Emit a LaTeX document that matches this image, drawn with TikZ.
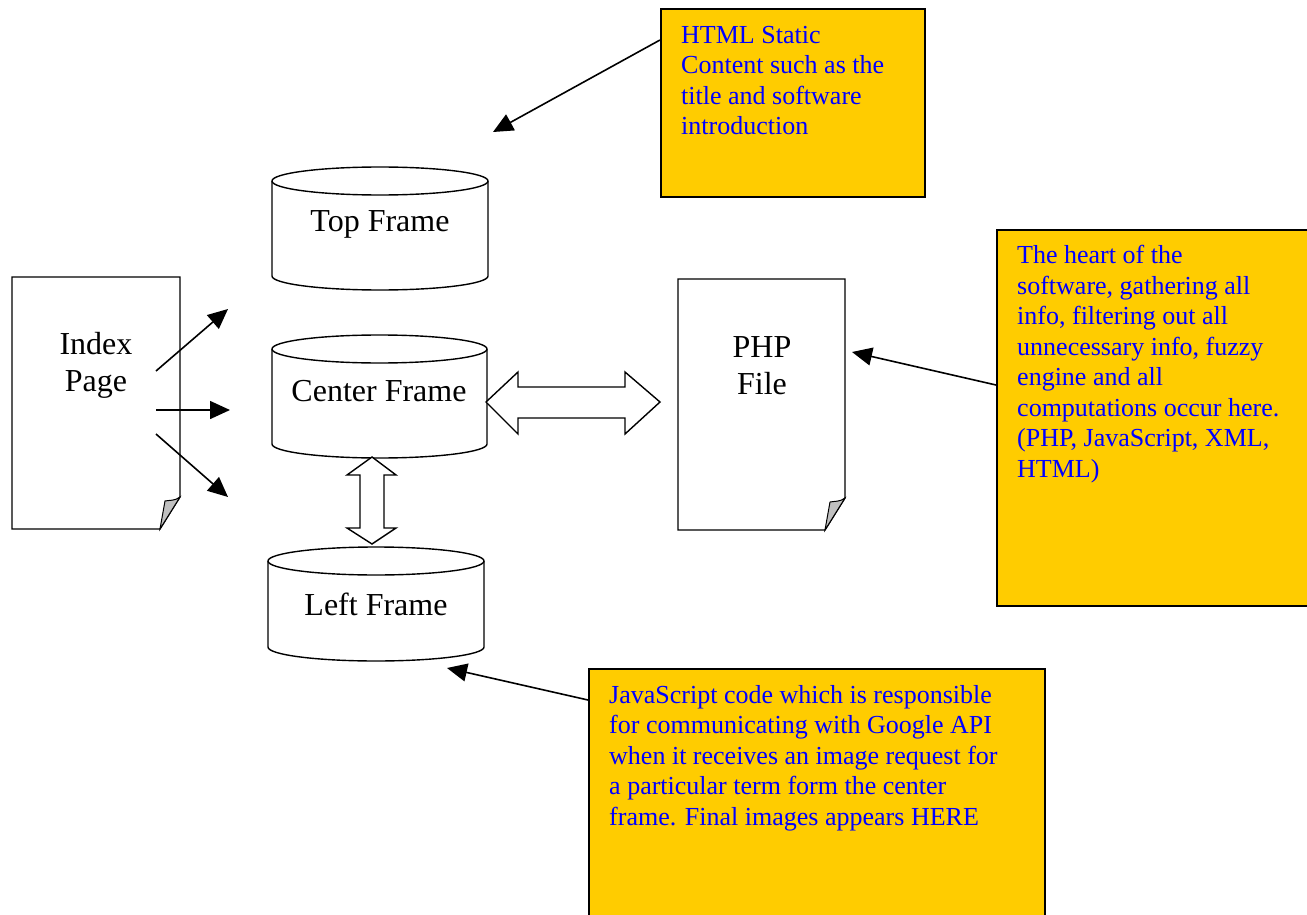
\documentclass[tikz,border=0pt]{standalone}
\usepackage{fontspec}
\setmainfont{Liberation Serif}
\usetikzlibrary{arrows.meta}
\definecolor{note}{HTML}{FFCC00}
\definecolor{notetext}{HTML}{0000FF}
\definecolor{foldgray}{HTML}{C0C0C0}
\begin{document}
\begin{tikzpicture}[x=1pt,y=-1pt,
  outline/.style={draw=black,line width=1.4pt,line join=miter,fill=white},
  notebox/.style={draw=black,line width=2pt,fill=note,inner sep=0pt,anchor=north west},
  notetxt/.style={text=notetext,font=\fontsize{26}{30.5}\selectfont,align=left,inner sep=0pt,anchor=north west},
  bigtxt/.style={font=\fontsize{32}{37}\selectfont,align=center,inner sep=0pt},
  arr/.style={line width=1.6pt,-{Triangle[length=20pt,width=18pt]}},
  foldst/.style={draw=black,line width=1pt,fill=foldgray}]
\useasboundingbox (0,0) rectangle (1307,915);
\fill[white] (0,0) rectangle (1307,915);

% ---------- yellow notes ----------
\node[notebox,minimum width=264pt,minimum height=188pt] (tbox) at (660,8) {};
\node[notetxt] (ttxt) at (681,26) {HTML Static\\Content such as the\\title and software\\introduction};

\node[notebox,minimum width=330pt,minimum height=376pt] (rbox) at (996,229) {};
\node[notetxt] (rtxt) at (1017,245) {The heart of the\\software, gathering all\\info, filtering out all\\unnecessary info, fuzzy\\engine and all\\computations occur here.\\(PHP, JavaScript, XML,\\HTML)};

\node[notebox,minimum width=456pt,minimum height=270pt] (bbox) at (588,668) {};
\node[notetxt] (btxt) at (609,685) {JavaScript code which is responsible\\for communicating with Google API\\when it receives an image request for\\a particular term form the center\\frame. Final images appears HERE};

% ---------- documents ----------
\draw[outline] (12,277) -- (180,277) -- (180,497) -- (160,529) -- (12,529) -- cycle;
\draw[foldst] (180,497) .. controls (175,501) and (170,500) .. (165,501) -- (160,529) -- cycle;
\node[bigtxt] (index) at (96,365) {Index\\Page};

\draw[outline] (678,279) -- (845,279) -- (845,498) -- (825,530) -- (678,530) -- cycle;
\draw[foldst] (845,498) .. controls (840,502) and (835,501) .. (830,502) -- (825,530) -- cycle;
\node[bigtxt] (php) at (762,366) {PHP\\File};

% ---------- cylinders ----------
% Top Frame
\draw[outline] (272,181) -- (272,276) arc[start angle=180,end angle=0,x radius=108,y radius=14]
  -- (488,181) arc[start angle=0,end angle=-180,x radius=108,y radius=14] -- cycle;
\draw[line width=1.4pt] (272,181) arc[start angle=180,end angle=0,x radius=108,y radius=14];
\node[bigtxt] (top) at (380,224) {Top Frame};

% Center Frame
\draw[outline] (272,349) -- (272,444) arc[start angle=180,end angle=0,x radius=107.5,y radius=14]
  -- (487,349) arc[start angle=0,end angle=-180,x radius=107.5,y radius=14] -- cycle;
\draw[line width=1.4pt] (272,349) arc[start angle=180,end angle=0,x radius=107.5,y radius=14];
\node[bigtxt] (center) at (379,391) {Center Frame};

% Left Frame
\draw[outline] (268,561) -- (268,647) arc[start angle=180,end angle=0,x radius=108,y radius=14]
  -- (484,561) arc[start angle=0,end angle=-180,x radius=108,y radius=14] -- cycle;
\draw[line width=1.4pt] (268,561) arc[start angle=180,end angle=0,x radius=108,y radius=14];
\node[bigtxt] (left) at (376,604) {Left Frame};

% ---------- block double arrows ----------
\draw[outline] (486,402) -- (518,372) -- (518,387) -- (625,387) -- (625,372) -- (660,402)
  -- (625,434) -- (625,418) -- (518,418) -- (518,434) -- cycle;
\draw[outline] (372,457) -- (396,475) -- (384,475) -- (384,528) -- (396,528) -- (372,544)
  -- (347,528) -- (360,528) -- (360,475) -- (347,475) -- cycle;

% ---------- connectors ----------
\coordinate (i1) at (156,371);
\coordinate (i2) at (156,410);
\coordinate (i3) at (156,434);
\coordinate (e1) at (228,309);
\coordinate (e2) at (230,410);
\coordinate (e3) at (228,497);
\draw[arr] (i1) -- (e1);
\draw[arr] (i2) -- (e2);
\draw[arr] (i3) -- (e3);

\coordinate (ts) at (660,40);
\coordinate (te) at (493,132);
\draw[arr] (ts) -- (te);

\coordinate (rs) at (996,385);
\coordinate (re) at (852,352);
\draw[arr] (rs) -- (re);

\coordinate (bs) at (588,700);
\coordinate (be) at (447,668);
\draw[arr] (bs) -- (be);
\end{tikzpicture}
\end{document}
